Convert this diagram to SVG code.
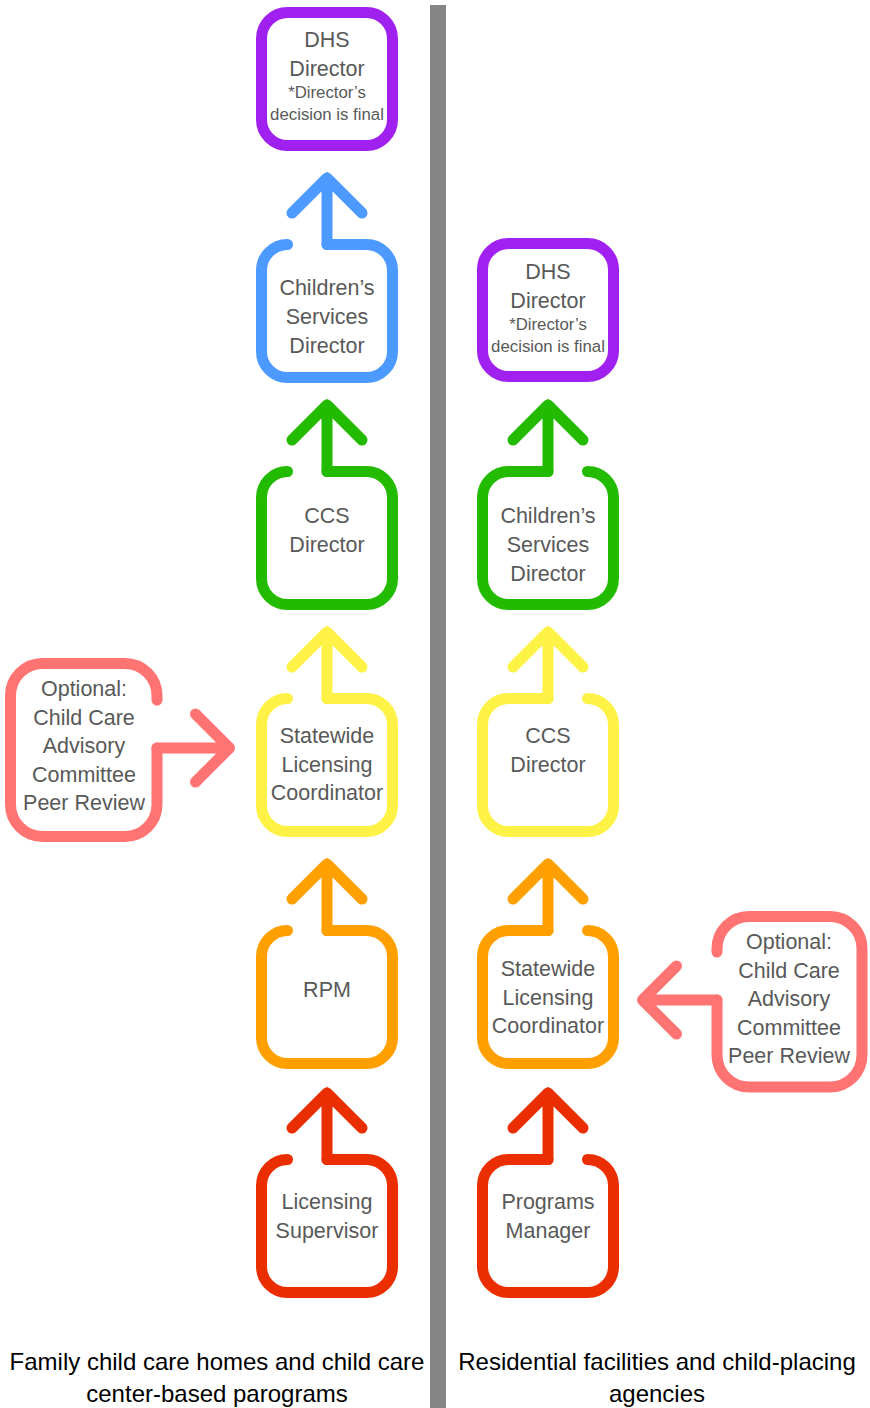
<svg xmlns="http://www.w3.org/2000/svg" width="870" height="1408" viewBox="0 0 870 1408">
<style>
.o{fill:none;stroke-width:11;stroke-linecap:round;stroke-linejoin:round}
.pu{stroke:#A020F0}.bl{stroke:#4C9AFF}.gr{stroke:#22BB00}.ye{stroke:#FFF246}.or{stroke:#FFA000}.rd{stroke:#EA2E00}.sa{stroke:#FF7373}
.t{font-family:"Liberation Sans",Arial,sans-serif;font-size:21.5px;fill:#595959;text-anchor:middle}
.s{font-size:16.8px}
.b{font-family:"Liberation Sans",Arial,sans-serif;font-size:24px;fill:#000;text-anchor:middle}
</style>
<rect width="870" height="1408" fill="#fff"/>
<rect id="separator" x="430" y="5" width="16" height="1403" fill="#868686"/>

<!-- Left column -->
<g id="l-dhs">
<rect class="o pu" x="261.5" y="12.5" width="131" height="133" rx="26"/>
<text class="t" x="327" y="47">DHS</text>
<text class="t" x="327" y="76">Director</text>
<text class="t s" x="327" y="98">*Director’s</text>
<text class="t s" x="327" y="120">decision is final</text>
</g>
<g id="l-csd">
<path class="o bl" d="M287.5,244.5 A26 26 0 0 0 261.5,270.5 V351.5 A26 26 0 0 0 287.5,377.5 H366.5 A26 26 0 0 0 392.5,351.5 V270.5 A26 26 0 0 0 366.5,244.5 H327"/>
<text class="t" x="327" y="295">Children’s</text>
<text class="t" x="327" y="324">Services</text>
<text class="t" x="327" y="353">Director</text>
</g>
<g id="l-ccs">
<path class="o gr" d="M287.5,471.5 A26 26 0 0 0 261.5,497.5 V578.5 A26 26 0 0 0 287.5,604.5 H366.5 A26 26 0 0 0 392.5,578.5 V497.5 A26 26 0 0 0 366.5,471.5 H327"/>
<text class="t" x="327" y="523">CCS</text>
<text class="t" x="327" y="552">Director</text>
</g>
<g id="l-slc">
<path class="o ye" d="M287.5,698.5 A26 26 0 0 0 261.5,724.5 V805.5 A26 26 0 0 0 287.5,831.5 H366.5 A26 26 0 0 0 392.5,805.5 V724.5 A26 26 0 0 0 366.5,698.5 H327"/>
<text class="t" x="327" y="743">Statewide</text>
<text class="t" x="327" y="772">Licensing</text>
<text class="t" x="327" y="800">Coordinator</text>
</g>
<g id="l-rpm">
<path class="o or" d="M287.5,930.5 A26 26 0 0 0 261.5,956.5 V1037.5 A26 26 0 0 0 287.5,1063.5 H366.5 A26 26 0 0 0 392.5,1037.5 V956.5 A26 26 0 0 0 366.5,930.5 H327"/>
<text class="t" x="327" y="997">RPM</text>
</g>
<g id="l-ls">
<path class="o rd" d="M287.5,1159.5 A26 26 0 0 0 261.5,1185.5 V1266.5 A26 26 0 0 0 287.5,1292.5 H366.5 A26 26 0 0 0 392.5,1266.5 V1185.5 A26 26 0 0 0 366.5,1159.5 H327"/>
<text class="t" x="327" y="1209">Licensing</text>
<text class="t" x="327" y="1238">Supervisor</text>
</g>
<g id="l-opt">
<path class="o sa" d="M157,700 V695.5 A32 32 0 0 0 125,663.5 H42.5 A32 32 0 0 0 10.5,695.5 V804.5 A32 32 0 0 0 42.5,836.5 H125 A32 32 0 0 0 157,804.5 V748"/>
<text class="t" x="84" y="696">Optional:</text>
<text class="t" x="84" y="725">Child Care</text>
<text class="t" x="84" y="753">Advisory</text>
<text class="t" x="84" y="782">Committee</text>
<text class="t" x="84" y="810">Peer Review</text>
</g>

<!-- Right column -->
<g id="r-dhs">
<rect class="o pu" x="482.5" y="243.5" width="131" height="133" rx="26"/>
<text class="t" x="548" y="279">DHS</text>
<text class="t" x="548" y="308">Director</text>
<text class="t s" x="548" y="330">*Director’s</text>
<text class="t s" x="548" y="352">decision is final</text>
</g>
<g id="r-csd">
<path class="o gr" d="M587.5,471.5 A26 26 0 0 1 613.5,497.5 V578.5 A26 26 0 0 1 587.5,604.5 H508.5 A26 26 0 0 1 482.5,578.5 V497.5 A26 26 0 0 1 508.5,471.5 H548"/>
<text class="t" x="548" y="523">Children’s</text>
<text class="t" x="548" y="552">Services</text>
<text class="t" x="548" y="581">Director</text>
</g>
<g id="r-ccs">
<path class="o ye" d="M587.5,698.5 A26 26 0 0 1 613.5,724.5 V805.5 A26 26 0 0 1 587.5,831.5 H508.5 A26 26 0 0 1 482.5,805.5 V724.5 A26 26 0 0 1 508.5,698.5 H548"/>
<text class="t" x="548" y="743">CCS</text>
<text class="t" x="548" y="772">Director</text>
</g>
<g id="r-slc">
<path class="o or" d="M587.5,930.5 A26 26 0 0 1 613.5,956.5 V1037.5 A26 26 0 0 1 587.5,1063.5 H508.5 A26 26 0 0 1 482.5,1037.5 V956.5 A26 26 0 0 1 508.5,930.5 H548"/>
<text class="t" x="548" y="976">Statewide</text>
<text class="t" x="548" y="1005">Licensing</text>
<text class="t" x="548" y="1033">Coordinator</text>
</g>
<g id="r-pm">
<path class="o rd" d="M587.5,1159.5 A26 26 0 0 1 613.5,1185.5 V1266.5 A26 26 0 0 1 587.5,1292.5 H508.5 A26 26 0 0 1 482.5,1266.5 V1185.5 A26 26 0 0 1 508.5,1159.5 H548"/>
<text class="t" x="548" y="1209">Programs</text>
<text class="t" x="548" y="1238">Manager</text>
</g>
<g id="r-opt">
<path class="o sa" d="M717,952 V948.5 A32 32 0 0 1 749,916.5 H830 A32 32 0 0 1 862,948.5 V1055 A32 32 0 0 1 830,1087 H749 A32 32 0 0 1 717,1055 V1000"/>
<text class="t" x="789" y="949">Optional:</text>
<text class="t" x="789" y="978">Child Care</text>
<text class="t" x="789" y="1006">Advisory</text>
<text class="t" x="789" y="1035">Committee</text>
<text class="t" x="789" y="1063">Peer Review</text>
</g>

<g id="connectors">
<path class="o bl" d="M327,244.5 V178 M292,213 L327,178 L362,213"/>
<path class="o gr" d="M327,471.5 V405 M292,440 L327,405 L362,440"/>
<path class="o ye" d="M327,698.5 V632 M292,667 L327,632 L362,667"/>
<path class="o or" d="M327,930.5 V864 M292,899 L327,864 L362,899"/>
<path class="o rd" d="M327,1159.5 V1093 M292,1128 L327,1093 L362,1128"/>
<path class="o sa" d="M157,748 H229.5 M195.5,714 L229.5,748 L195.5,782"/>
<path class="o gr" d="M548,471.5 V405 M513,440 L548,405 L583,440"/>
<path class="o ye" d="M548,698.5 V632 M513,667 L548,632 L583,667"/>
<path class="o or" d="M548,930.5 V864 M513,899 L548,864 L583,899"/>
<path class="o rd" d="M548,1159.5 V1093 M513,1128 L548,1093 L583,1128"/>
<path class="o sa" d="M717,1000 H642.5 M676.5,966 L642.5,1000 L676.5,1034"/>
</g>

<g id="labels">
<text class="b" x="217" y="1370">Family child care homes and child care</text>
<text class="b" x="217" y="1402">center-based parograms</text>
<text class="b" x="657" y="1370">Residential facilities and child-placing</text>
<text class="b" x="657" y="1402">agencies</text>
</g>
</svg>
